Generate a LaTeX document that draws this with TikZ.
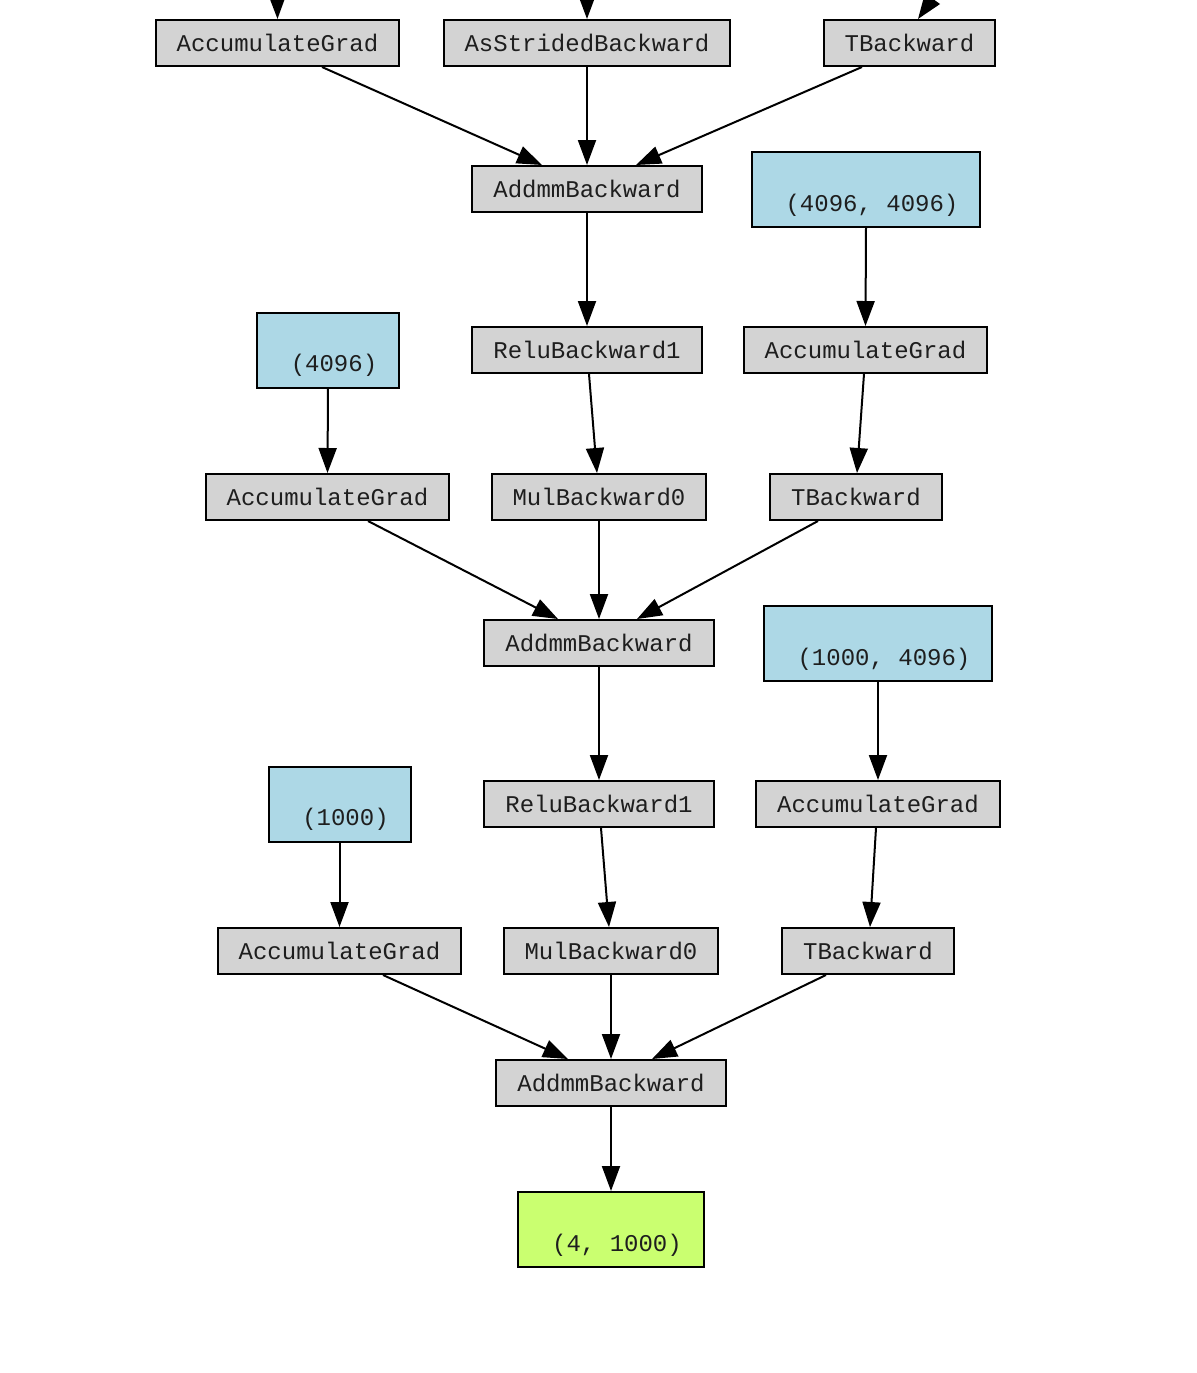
\documentclass[tikz,border=0pt]{standalone}
\usepackage{fontspec}
\setmonofont{Liberation Mono}
\usetikzlibrary{arrows.meta,calc}
\definecolor{opgray}{RGB}{211,211,211}
\definecolor{tblue}{RGB}{173,216,230}
\definecolor{outgreen}{RGB}{202,255,112}
\definecolor{txt}{RGB}{30,30,30}
\newcommand{\tpad}{\hspace*{6pt}}
\begin{document}
\begin{tikzpicture}[x=0.5pt,y=-0.5pt,
  op/.style={draw=black,line width=1pt,fill=opgray,font=\ttfamily\fontsize{12}{13.5}\selectfont,text=txt,
    inner xsep=10.5pt,inner ysep=0pt,minimum height=23pt},
  tensor/.style={draw=black,line width=1pt,fill=tblue,font=\ttfamily\fontsize{12}{13.5}\selectfont,text=txt,
    inner sep=0pt,minimum height=37.5pt,text height=21.5pt,text depth=0pt},
  outbox/.style={tensor,fill=outgreen},
  edge/.style={line width=1pt,-{Triangle[length=12.5pt,width=9pt]}}]
\useasboundingbox (0,0) rectangle (1197,1373);
\fill[white] (0,0) rectangle (1197,1373);
\clip (0,0) rectangle (1197,1373);
% row 1
\node[op] (acc1) at (277.5,43) {AccumulateGrad};
\node[op] (as1) at (587,43) {AsStridedBackward};
\node[op] (tb1) at (909.5,43) {TBackward};
\coordinate (in1) at (277,-40);
\coordinate (in2) at (587,-40);
\coordinate (in3) at (960,-40);
% row 2
\node[op] (addmm1) at (587,189) {AddmmBackward};
\node[tensor,minimum width=114pt] (blue1) at (866,189.5) {\tpad(4096, 4096)};
% row 3
\node[op] (relu1) at (587,350) {ReluBackward1};
\node[op] (acc2) at (865.5,350) {AccumulateGrad};
\node[tensor,minimum width=71pt] (blue2) at (328,350) {\tpad(4096)};
% row 4
\node[op] (acc3) at (327.5,497) {AccumulateGrad};
\node[op] (mul1) at (599,497) {MulBackward0};
\node[op] (tb2) at (856,497) {TBackward};
% row 5
\node[op] (addmm2) at (599,643) {AddmmBackward};
\node[tensor,minimum width=114pt] (blue3) at (878,643.5) {\tpad(1000, 4096)};
% row 6
\node[op] (relu2) at (599,804) {ReluBackward1};
\node[op] (acc4) at (878,804) {AccumulateGrad};
\node[tensor,minimum width=71pt] (blue4) at (339.5,804) {\tpad(1000)};
% row 7
\node[op] (acc5) at (339.5,951) {AccumulateGrad};
\node[op] (mul2) at (611,951) {MulBackward0};
\node[op] (tb3) at (868,951) {TBackward};
% row 8
\node[op] (addmm3) at (611,1083) {AddmmBackward};
% row 9
\node[outbox,minimum width=93pt] (out) at (611,1229.5) {\tpad(4, 1000)};
% edges
\draw[edge] (in1) -- (acc1.north);
\draw[edge] (in2) -- (as1.north);
\draw[edge] (in3) -- ($(tb1.north)+(8.5,0)$);
\draw[edge] ($(acc1.south)+(44.5,0)$) -- ($(addmm1.north)+(-45,0)$);
\draw[edge] (as1.south) -- (addmm1.north);
\draw[edge] ($(tb1.south)+(-47.5,0)$) -- ($(addmm1.north)+(49,0)$);
\draw[edge] (addmm1.south) -- (relu1.north);
\draw[edge] (blue1.south) -- (acc2.north);
\draw[edge] (blue2.south) -- (acc3.north);
\draw[edge] ($(relu1.south)+(2,0)$) -- ($(mul1.north)+(-2,0)$);
\draw[edge] ($(acc2.south)+(-1.5,0)$) -- ($(tb2.north)+(1,0)$);
\draw[edge] ($(acc3.south)+(40.5,0)$) -- ($(addmm2.north)+(-41,0)$);
\draw[edge] (mul1.south) -- (addmm2.north);
\draw[edge] ($(tb2.south)+(-38,0)$) -- ($(addmm2.north)+(38,0)$);
\draw[edge] (addmm2.south) -- (relu2.north);
\draw[edge] (blue3.south) -- (acc4.north);
\draw[edge] (blue4.south) -- (acc5.north);
\draw[edge] ($(relu2.south)+(2,0)$) -- ($(mul2.north)+(-2,0)$);
\draw[edge] ($(acc4.south)+(-2,0)$) -- ($(tb3.north)+(2,0)$);
\draw[edge] ($(acc5.south)+(43.5,0)$) -- ($(addmm3.north)+(-43,0)$);
\draw[edge] (mul2.south) -- (addmm3.north);
\draw[edge] ($(tb3.south)+(-42,0)$) -- ($(addmm3.north)+(41,0)$);
\draw[edge] (addmm3.south) -- (out.north);
\end{tikzpicture}
\end{document}
